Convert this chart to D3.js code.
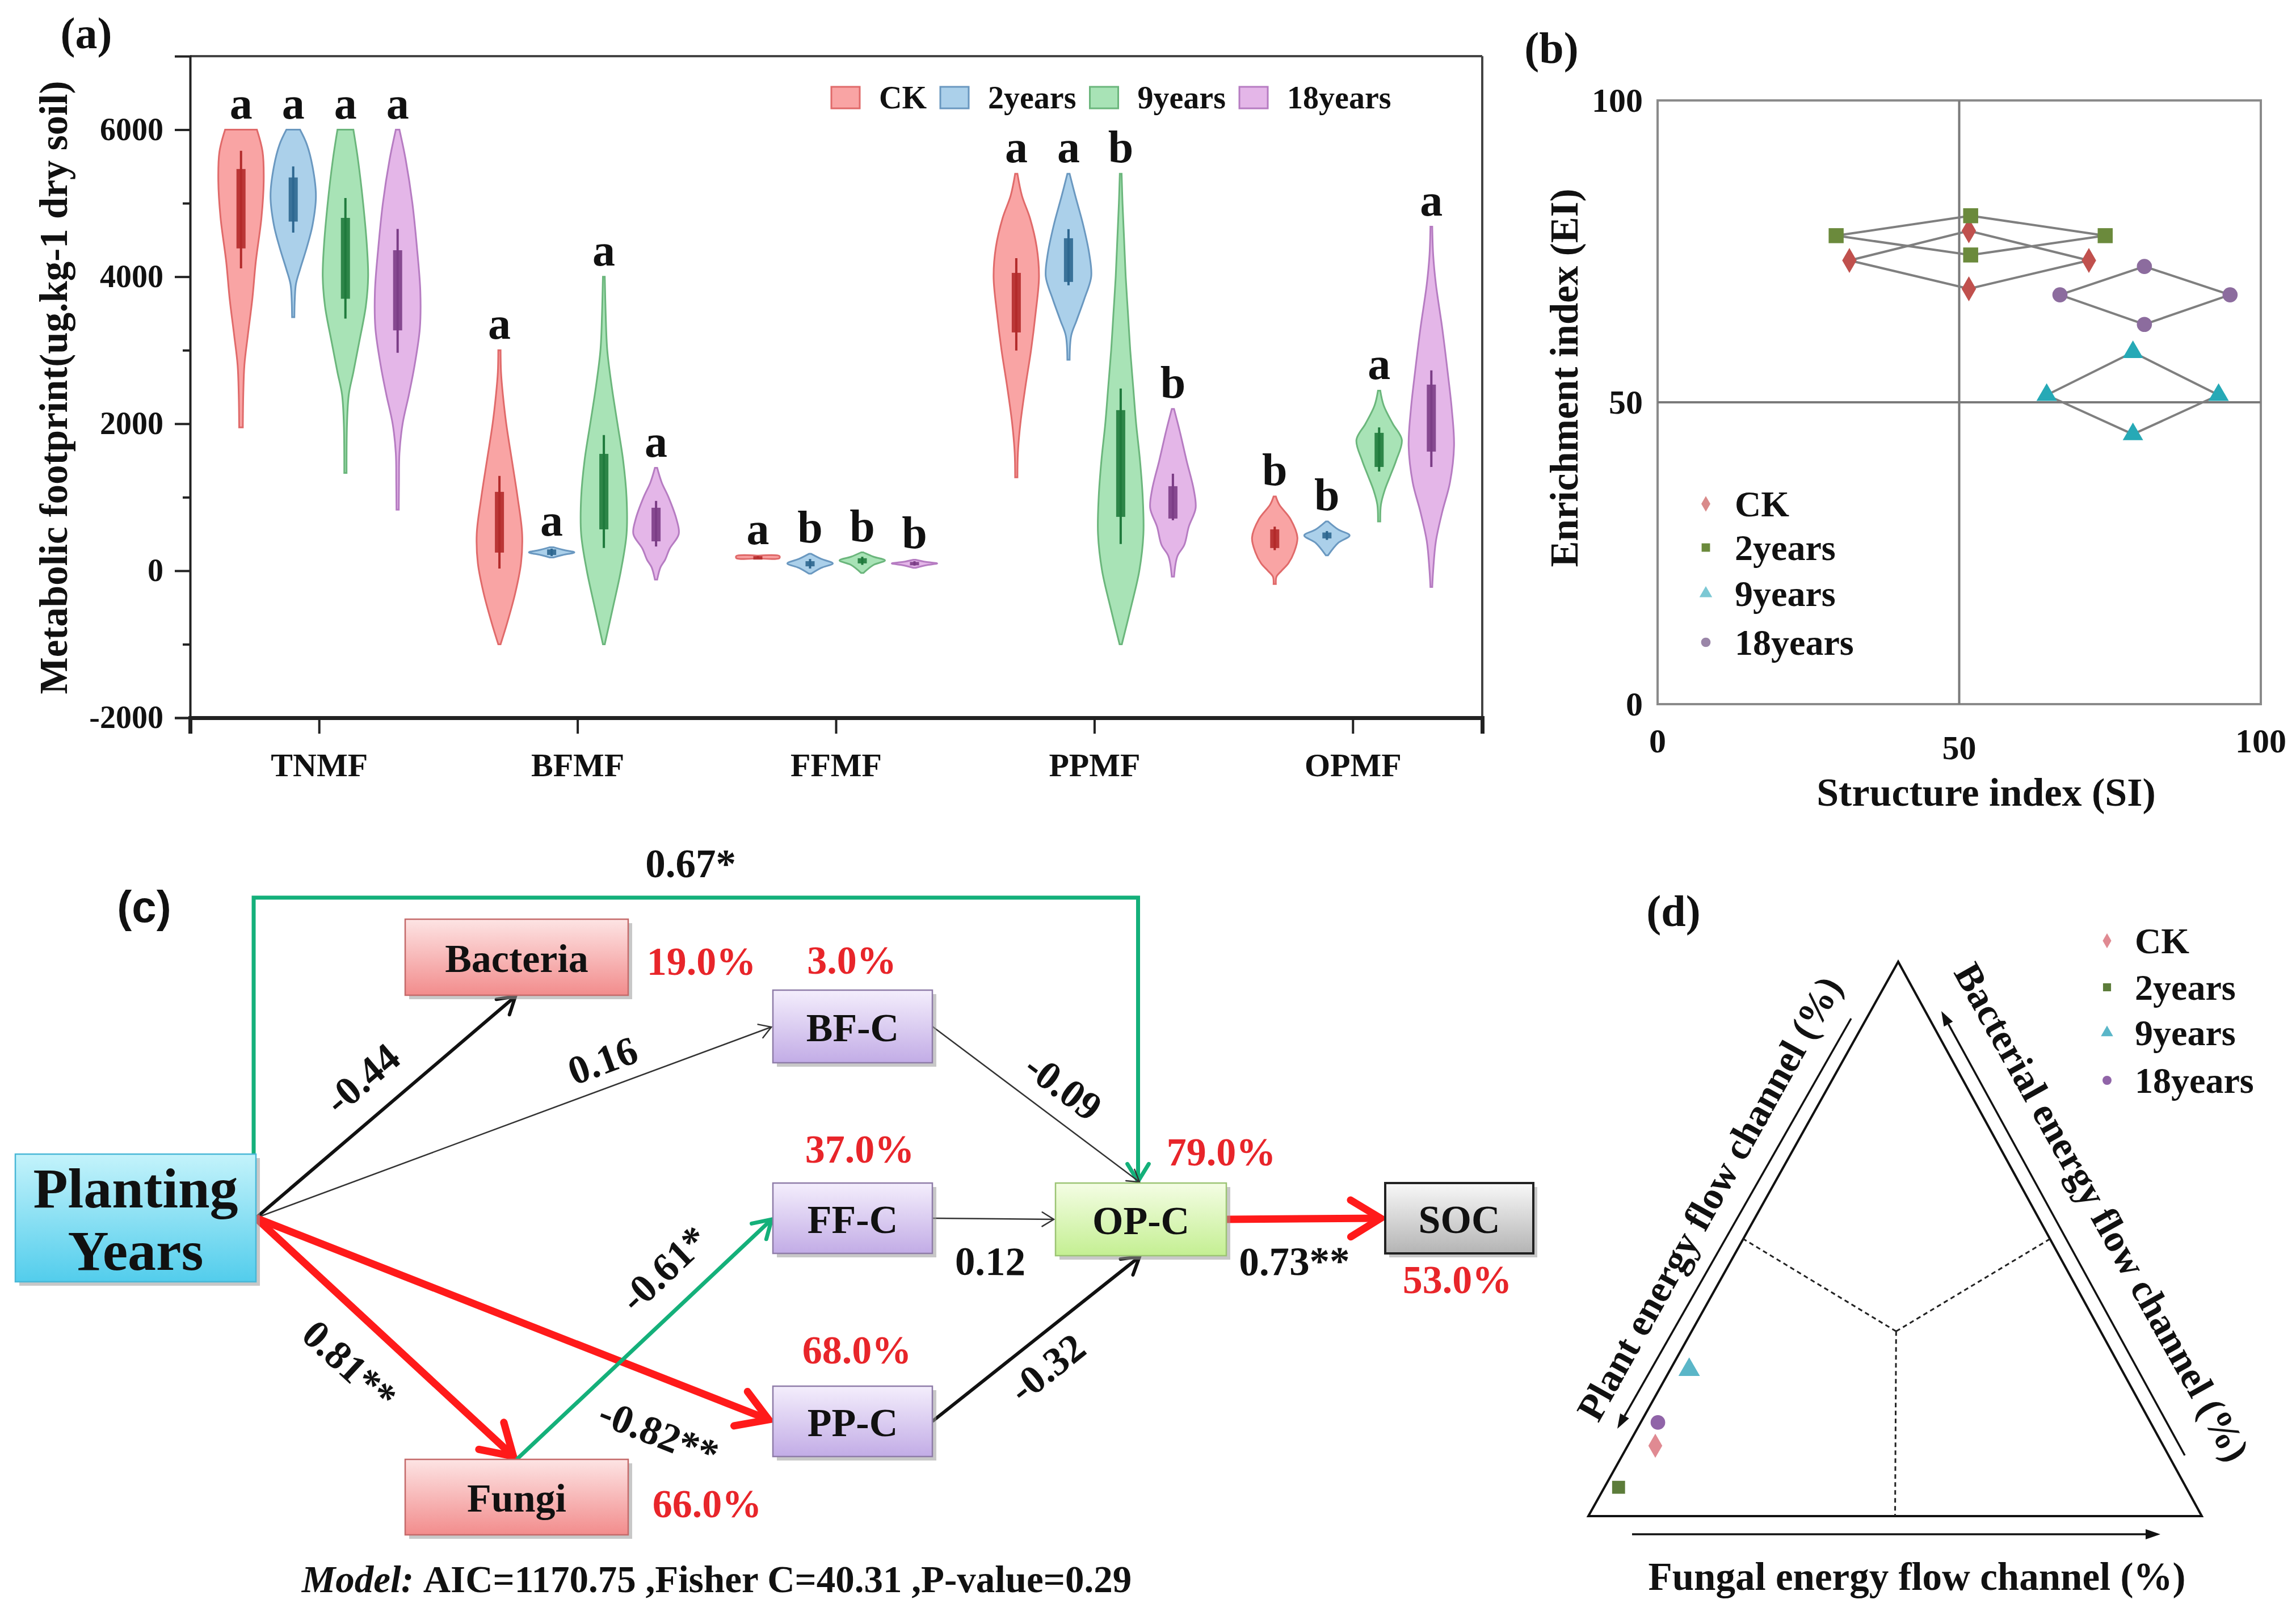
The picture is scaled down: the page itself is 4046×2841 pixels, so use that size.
<!DOCTYPE html>
<html>
<head>
<meta charset="utf-8">
<script src="https://cdn.jsdelivr.net/npm/d3@7"></script>
<style>
  body { margin: 0; background: #fff; }
  svg text { font-family: "Liberation Serif", "Times New Roman", serif; font-weight: bold; fill: #111; }
</style>
</head>
<body>
<svg id="fig" width="4046" height="2841"></svg>
<script>
// ---------------- data ----------------
const groups = ["CK", "2years", "9years", "18years"];
const footprints = ["TNMF", "BFMF", "FFMF", "PPMF", "OPMF"];
const yTicks = [-2000, 0, 2000, 4000, 6000];
const yMinorTicks = [-1000, 1000, 3000, 5000];

// violin outlines: [value, relative density]
const tnmf = [
  { group: "CK", letter: "a", lo: 4114, q1: 4385, q3: 5465, hi: 5712,
    profile: [[6000, 0.7], [5700, 0.95], [5300, 1.0], [4800, 0.9], [4200, 0.65], [3700, 0.5], [3200, 0.3], [2800, 0.15], [2400, 0.1], [1950, 0.08]] },
  { group: "2years", letter: "a", lo: 4600, q1: 4750, q3: 5350, hi: 5500,
    profile: [[6000, 0.3], [5800, 0.6], [5500, 0.85], [5100, 1.0], [4700, 0.85], [4400, 0.6], [4100, 0.3], [3900, 0.12], [3700, 0.07], [3450, 0.05]] },
  { group: "9years", letter: "a", lo: 3430, q1: 3700, q3: 4800, hi: 5070,
    profile: [[6000, 0.35], [5600, 0.55], [5000, 0.78], [4400, 0.95], [4000, 1.0], [3600, 0.9], [3100, 0.6], [2700, 0.35], [2400, 0.15], [2000, 0.07], [1330, 0.05]] },
  { group: "18years", letter: "a", lo: 2965, q1: 3270, q3: 4360, hi: 4650,
    profile: [[6000, 0.08], [5600, 0.35], [5000, 0.65], [4400, 0.85], [3800, 1.0], [3300, 0.98], [2800, 0.75], [2400, 0.5], [2000, 0.22], [1600, 0.08], [1200, 0.06], [830, 0.05]] }
];
const bfmf = [
  { group: "CK", letter: "a", lo: 30, q1: 247, q3: 1073, hi: 1290,
    profile: [[3000, 0.05], [2700, 0.07], [2400, 0.15], [2000, 0.3], [1500, 0.55], [1000, 0.8], [500, 1.0], [100, 0.95], [-300, 0.7], [-700, 0.35], [-1000, 0.05]] },
  { group: "2years", letter: "a", lo: 200, q1: 215, q3: 290, hi: 300,
    profile: [[320, 0.08], [285, 0.5], [250, 1.0], [215, 0.5], [180, 0.08]] },
  { group: "9years", letter: "a", lo: 309, q1: 563, q3: 1590, hi: 1845,
    profile: [[4000, 0.04], [3500, 0.08], [3000, 0.15], [2500, 0.35], [2000, 0.6], [1500, 0.85], [1000, 1.0], [500, 1.0], [0, 0.75], [-500, 0.4], [-1000, 0.04]] },
  { group: "18years", letter: "a", lo: 330, q1: 400, q3: 857, hi: 950,
    profile: [[1400, 0.05], [1200, 0.25], [1000, 0.55], [700, 0.9], [500, 1.0], [300, 0.6], [150, 0.4], [50, 0.2], [-120, 0.05]] }
];
const ffmf = [
  { group: "CK", letter: "a", lo: 175, q1: 178, q3: 198, hi: 200,
    profile: [[205, 0.04], [200, 0.95], [172, 0.95], [168, 0.04]] },
  { group: "2years", letter: "b", lo: 30, q1: 60, q3: 130, hi: 160,
    profile: [[230, 0.05], [160, 0.5], [100, 1.0], [40, 0.5], [-40, 0.05]] },
  { group: "9years", letter: "b", lo: 80, q1: 100, q3: 170, hi: 190,
    profile: [[250, 0.05], [190, 0.5], [140, 1.0], [80, 0.5], [-30, 0.05]] },
  { group: "18years", letter: "b", lo: 70, q1: 80, q3: 120, hi: 130,
    profile: [[150, 0.05], [120, 0.5], [100, 1.0], [75, 0.5], [40, 0.05]] }
];
const ppmf = [
  { group: "CK", letter: "a", lo: 2995, q1: 3242, q3: 4052, hi: 4253,
    profile: [[5400, 0.05], [5100, 0.25], [4800, 0.6], [4400, 0.9], [4000, 1.0], [3500, 0.85], [3000, 0.65], [2500, 0.4], [2000, 0.18], [1600, 0.07], [1270, 0.05]] },
  { group: "2years", letter: "a", lo: 3883, q1: 3929, q3: 4523, hi: 4647,
    profile: [[5400, 0.05], [5100, 0.3], [4700, 0.65], [4300, 0.92], [4000, 1.0], [3700, 0.7], [3400, 0.35], [3200, 0.12], [2870, 0.05]] },
  { group: "9years", letter: "b", lo: 363, q1: 733, q3: 2185, hi: 2478,
    profile: [[5400, 0.04], [5000, 0.08], [4500, 0.15], [4000, 0.22], [3500, 0.32], [3000, 0.42], [2500, 0.55], [2000, 0.68], [1500, 0.85], [1000, 0.97], [500, 1.0], [0, 0.82], [-500, 0.45], [-1000, 0.05]] },
  { group: "18years", letter: "b", lo: 687, q1: 710, q3: 1150, hi: 1320,
    profile: [[2200, 0.05], [1900, 0.3], [1500, 0.6], [1100, 0.92], [850, 1.0], [600, 0.7], [350, 0.5], [200, 0.2], [-80, 0.05]] }
];
const opmf = [
  { group: "CK", letter: "b", lo: 280, q1: 309, q3: 563, hi: 600,
    profile: [[1010, 0.05], [900, 0.2], [700, 0.7], [450, 1.0], [250, 0.85], [100, 0.6], [0, 0.3], [-80, 0.08], [-180, 0.05]] },
  { group: "2years", letter: "b", lo: 420, q1: 440, q3: 520, hi: 540,
    profile: [[670, 0.05], [560, 0.5], [480, 1.0], [380, 0.5], [210, 0.05]] },
  { group: "9years", letter: "a", lo: 1350, q1: 1412, q3: 1876, hi: 1950,
    profile: [[2450, 0.05], [2250, 0.2], [2000, 0.6], [1780, 1.0], [1500, 0.75], [1300, 0.5], [1100, 0.25], [900, 0.08], [670, 0.05]] },
  { group: "18years", letter: "a", lo: 1412, q1: 1621, q3: 2532, hi: 2725,
    profile: [[4680, 0.04], [4300, 0.08], [3900, 0.2], [3300, 0.48], [2700, 0.72], [2200, 0.9], [1700, 1.0], [1200, 0.82], [800, 0.48], [400, 0.2], [0, 0.08], [-220, 0.04]] }
];
const violinSets = [tnmf, bfmf, ffmf, ppmf, opmf];

// (b) structure / enrichment index, each group: left, top, right, bottom
const indexTicks = [0, 50, 100];
const ckIndex = [[31.8, 73.5], [51.6, 78.4], [71.5, 73.5], [51.6, 68.8]];
const y2Index = [[29.6, 77.6], [51.9, 80.9], [74.2, 77.6], [51.9, 74.4]];
const y9Index = [[64.5, 51.2], [78.8, 58.3], [93.0, 51.2], [78.8, 44.7]];
const y18Index = [[66.7, 67.8], [80.7, 72.5], [94.9, 67.8], [80.7, 62.9]];
const indexSets = [ckIndex, y2Index, y9Index, y18Index];

// (c) structural equation model
const semExplained = [["Bacteria", "19.0%"], ["Fungi", "66.0%"], ["BF-C", "3.0%"], ["FF-C", "37.0%"],
                      ["PP-C", "68.0%"], ["OP-C", "79.0%"], ["SOC", "53.0%"]];
const semPaths = [
  ["Planting Years", "Bacteria", "-0.44"],
  ["Planting Years", "BF-C", "0.16"],
  ["Planting Years", "Fungi", "0.81**"],
  ["Planting Years", "PP-C", "-0.82**"],
  ["Planting Years", "OP-C", "0.67*"],
  ["Fungi", "FF-C", "-0.61*"],
  ["BF-C", "OP-C", "-0.09"],
  ["FF-C", "OP-C", "0.12"],
  ["PP-C", "OP-C", "-0.32"],
  ["OP-C", "SOC", "0.73**"]
];
const semFit = { AIC: "1170.75", FisherC: "40.31", P: "0.29" };

// (d) energy flow channels (% plant, % fungal, % bacterial)
const channelPoints = [["CK", 82.8, 4.5, 12.7], ["2years", 92.5, 2.3, 5.2], ["9years", 70.5, 3.1, 26.4], ["18years", 80.3, 2.8, 16.9]];

// ---------------- styles ----------------
const vFill = { CK: "#f9a4a4", "2years": "#abd0ea", "9years": "#a8e3b6", "18years": "#e4b6e8" };
const vStroke = { CK: "#e06a6a", "2years": "#6a98c0", "9years": "#6bb67c", "18years": "#b67cc2" };
const vBox = { CK: "#b22a2a", "2years": "#2e6790", "9years": "#1f7a3c", "18years": "#7b3d86" };
const bColor = { CK: "#c0504d", "2years": "#6b8a3c", "9years": "#26a9b6", "18years": "#8c6c9e" };
const bLegend = { CK: "#d98a8a", "2years": "#6b8a3c", "9years": "#7cc8d4", "18years": "#9a86a8" };
const dColor = { CK: "#e08a92", "2years": "#5c7c3a", "9years": "#5ab6c8", "18years": "#9064a8" };
const symbols = { CK: d3.symbolDiamond, "2years": d3.symbolSquare, "9years": d3.symbolTriangle, "18years": d3.symbolCircle };

const svg = d3.select("#fig");

function panelLabel(x, y, t, family) {
  svg.append("text").attr("x", x).attr("y", y).attr("text-anchor", "middle")
    .attr("dominant-baseline", "central").attr("font-size", 78)
    .style("font-family", family || null).text(t);
}

// ================= (a) violins =================
const gA = svg.append("g");
const xCat = d3.scaleBand().domain(footprints).range([335, 2612]);
const xGrp = d3.scaleBand().domain(groups).range([-184, 184]);
const yA = d3.scaleLinear().domain([-2000, 7000]).range([1265, 99]);
const wA = d3.scaleLinear().domain([0, 1]).range([0, 40]);

panelLabel(152, 58, "(a)");

// frame
gA.append("line").attr("x1", 335).attr("x2", 2612).attr("y1", 99).attr("y2", 99)
  .attr("stroke", "#444").attr("stroke-width", 4);
gA.append("line").attr("x1", 2612).attr("x2", 2612).attr("y1", 99).attr("y2", 1265)
  .attr("stroke", "#444").attr("stroke-width", 4);

const yAxisA = gA.append("g").attr("transform", "translate(335,0)")
  .call(d3.axisLeft(yA).tickValues(yTicks).tickSize(27).tickPadding(20).tickFormat(d => String(d)));
yAxisA.select(".domain").attr("stroke", "#222").attr("stroke-width", 4);
yAxisA.selectAll(".tick line").attr("stroke", "#222").attr("stroke-width", 4);
yAxisA.selectAll("text").attr("font-size", 56).attr("fill", "#111");
const yMinorA = gA.append("g").attr("transform", "translate(335,0)")
  .call(d3.axisLeft(yA).tickValues(yMinorTicks).tickSize(13).tickFormat(""));
yMinorA.select(".domain").remove();
yMinorA.selectAll(".tick line").attr("stroke", "#222").attr("stroke-width", 4);

const xAxisA = gA.append("g").attr("transform", "translate(0,1265)")
  .call(d3.axisBottom(xCat).tickSize(28).tickPadding(34));
xAxisA.select(".domain").attr("stroke", "#222").attr("stroke-width", 7);
xAxisA.selectAll(".tick line").attr("stroke", "#222").attr("stroke-width", 4);
xAxisA.selectAll("text").attr("font-size", 58).attr("fill", "#111");

gA.append("text")
  .attr("transform", "translate(95,683) rotate(-90)")
  .attr("text-anchor", "middle").attr("dominant-baseline", "central")
  .attr("font-size", 69).text("Metabolic footprint(ug.kg-1 dry soil)");

const violinArea = d3.area()
  .y(d => yA(d[0]))
  .curve(d3.curveCatmullRom.alpha(0.5));

violinSets.forEach((set, i) => {
  const cat = footprints[i];
  set.forEach(v => {
    const cx = xCat(cat) + xCat.bandwidth() / 2 + xGrp(v.group) + xGrp.bandwidth() / 2;
    const g = gA.append("g");
    g.append("path")
      .attr("d", violinArea.x0(d => cx - wA(d[1])).x1(d => cx + wA(d[1]))(v.profile))
      .attr("fill", vFill[v.group]).attr("stroke", vStroke[v.group]).attr("stroke-width", 3);
    g.append("line").attr("x1", cx).attr("x2", cx)
      .attr("y1", yA(v.hi)).attr("y2", yA(v.lo))
      .attr("stroke", vBox[v.group]).attr("stroke-width", 4);
    g.append("rect").attr("x", cx - 8).attr("width", 16)
      .attr("y", yA(v.q3)).attr("height", Math.max(6, yA(v.q1) - yA(v.q3)))
      .attr("fill", vBox[v.group]).attr("opacity", 0.9);
    g.append("text").attr("x", cx).attr("y", yA(v.profile[0][0]) - 20)
      .attr("text-anchor", "middle").attr("font-size", 80).text(v.letter);
  });
});

// legend (a)
{
  let lx = 1465;
  groups.forEach(gname => {
    gA.append("rect").attr("x", lx).attr("y", 153).attr("width", 50).attr("height", 38)
      .attr("fill", vFill[gname]).attr("stroke", vStroke[gname]).attr("stroke-width", 3);
    const t = gA.append("text").attr("x", lx + 84).attr("y", 172).attr("dominant-baseline", "central")
      .attr("font-size", 56).text(gname);
    lx += 84 + t.node().getComputedTextLength() + 24;
  });
}

// ================= (b) SI / EI =================
const gB = svg.append("g");
const xB = d3.scaleLinear().domain([0, 100]).range([2921, 3984]);
const yB = d3.scaleLinear().domain([0, 100]).range([1241, 177]);

panelLabel(2734, 84, "(b)");

gB.append("rect").attr("x", xB(0)).attr("y", yB(100))
  .attr("width", xB(100) - xB(0)).attr("height", yB(0) - yB(100))
  .attr("fill", "none").attr("stroke", "#8a8a8a").attr("stroke-width", 4);
gB.append("line").attr("x1", xB(50)).attr("x2", xB(50)).attr("y1", yB(0)).attr("y2", yB(100))
  .attr("stroke", "#7a7a7a").attr("stroke-width", 4);
gB.append("line").attr("x1", xB(0)).attr("x2", xB(100)).attr("y1", yB(50)).attr("y2", yB(50))
  .attr("stroke", "#7a7a7a").attr("stroke-width", 4);

indexTicks.forEach(t => {
  gB.append("text").attr("x", xB(0) - 26).attr("y", yB(t)).attr("text-anchor", "end")
    .attr("dominant-baseline", "central").attr("font-size", 60).text(t);
  gB.append("text").attr("x", xB(t)).attr("y", t === 50 ? 1318 : 1306).attr("text-anchor", "middle")
    .attr("dominant-baseline", "central").attr("font-size", 60).text(t);
});
gB.append("text").attr("x", 3500).attr("y", 1396).attr("text-anchor", "middle")
  .attr("dominant-baseline", "central").attr("font-size", 70).text("Structure index (SI)");
gB.append("text").attr("transform", "translate(2757,666) rotate(-90)").attr("text-anchor", "middle")
  .attr("dominant-baseline", "central").attr("font-size", 69).text("Enrichment index (EI)");

const diamondLine = d3.line().x(d => xB(d[0])).y(d => yB(d[1]));
indexSets.forEach(pts => {
  gB.append("path").attr("d", diamondLine(pts.concat([pts[0]])))
    .attr("fill", "none").attr("stroke", "#7f7f7f").attr("stroke-width", 4);
});
indexSets.forEach((pts, i) => {
  const gname = groups[i];
  gB.selectAll(null).data(pts).join("path")
    .attr("transform", d => `translate(${xB(d[0])},${yB(d[1])})`)
    .attr("d", d3.symbol().type(symbols[gname]).size(gname === "2years" ? 700 : 560))
    .attr("fill", bColor[gname]);
});
groups.forEach((gname, i) => {
  const ly = [888, 965, 1046, 1132][i];
  gB.append("path").attr("transform", `translate(3006,${ly})`)
    .attr("d", d3.symbol().type(symbols[gname]).size(220)).attr("fill", bLegend[gname]);
  gB.append("text").attr("x", 3057).attr("y", ly).attr("dominant-baseline", "central")
    .attr("font-size", 64).text(gname);
});

// ================= (c) SEM =================
const gC = svg.append("g");
panelLabel(254, 1598, "(c)", "'Liberation Sans', Arial, sans-serif");

const nodeBox = {
  "Planting Years": { x: 27, y: 2034, w: 424, h: 225, fill: "cyan" },
  "Bacteria": { x: 714, y: 1620, w: 393, h: 134, fill: "pink" },
  "Fungi": { x: 714, y: 2572, w: 393, h: 133, fill: "pink" },
  "BF-C": { x: 1362, y: 1745, w: 281, h: 128, fill: "lav" },
  "FF-C": { x: 1362, y: 2085, w: 281, h: 124, fill: "lav" },
  "PP-C": { x: 1362, y: 2443, w: 281, h: 124, fill: "lav" },
  "OP-C": { x: 1860, y: 2085, w: 301, h: 128, fill: "lime" },
  "SOC": { x: 2441, y: 2085, w: 261, h: 124, fill: "gray" }
};
const gradStops = {
  cyan: ["#c4f3fb", "#52cdec", "#49b7d6"],
  pink: ["#fde4e4", "#f28c8c", "#c46a6a"],
  lav: ["#f4eefc", "#c2ace6", "#8e7ca8"],
  lime: ["#f4fde4", "#c4ef92", "#9cc474"],
  gray: ["#f8f8f8", "#b4b4b4", "#222"]
};
const defs = svg.append("defs");
Object.entries(gradStops).forEach(([k, c]) => {
  const lg = defs.append("linearGradient").attr("id", "g-" + k).attr("x1", 0).attr("y1", 0).attr("x2", 0).attr("y2", 1);
  lg.append("stop").attr("offset", "0%").attr("stop-color", c[0]);
  lg.append("stop").attr("offset", "100%").attr("stop-color", c[1]);
});

// path routes: side of source and target box
const routes = {
  "Planting Years>Bacteria": ["right", "bottom"],
  "Planting Years>BF-C": ["right", "left"],
  "Planting Years>Fungi": ["right", "top"],
  "Planting Years>PP-C": ["right", "left"],
  "Planting Years>OP-C": ["right", "top"],
  "Fungi>FF-C": ["top", "left"],
  "BF-C>OP-C": ["right", "top"],
  "FF-C>OP-C": ["right", "left"],
  "PP-C>OP-C": ["right", "bottom"],
  "OP-C>SOC": ["right", "left"]
};
const labelPos = {
  "-0.44": [638, 1901], "0.16": [1062, 1869], "0.81**": [616, 2406], "-0.82**": [1161, 2526],
  "0.67*": [1217, 1522], "-0.61*": [1170, 2236], "-0.09": [1874, 1915], "0.12": [1745, 2223],
  "-0.32": [1845, 2411], "0.73**": [2281, 2223]
};
function anchor(name, side) {
  const b = nodeBox[name];
  if (side === "right") return [b.x + b.w, b.y + b.h / 2];
  if (side === "left") return [b.x, b.y + b.h / 2];
  if (side === "top") return [b.x + b.w / 2, b.y];
  return [b.x + b.w / 2, b.y + b.h];
}
function pathStyle(coef) {
  if (coef.endsWith("**")) return { color: "#ff1a1a", width: 13, head: 62 };
  if (coef.endsWith("*")) return { color: "#14b07a", width: 7, head: 36 };
  if (Math.abs(parseFloat(coef)) >= 0.3) return { color: "#111", width: 6, head: 34 };
  return { color: "#333", width: 2.5, head: 24 };
}
function chevron(g, tip, ang, st) {
  const a = 0.55;
  const p1 = [tip[0] - st.head * Math.cos(ang - a), tip[1] - st.head * Math.sin(ang - a)];
  const p2 = [tip[0] - st.head * Math.cos(ang + a), tip[1] - st.head * Math.sin(ang + a)];
  g.append("path").attr("d", `M${p1}L${tip}L${p2}`).attr("fill", "none")
    .attr("stroke", st.color).attr("stroke-width", st.width).attr("stroke-linejoin", "miter")
    .attr("stroke-linecap", "round");
}

// edges (drawn under boxes)
const gEdges = gC.append("g");
semPaths.forEach(([from, to, coef]) => {
  const st = pathStyle(coef);
  const [sa, ta] = routes[from + ">" + to];
  const p0 = anchor(from, sa);
  const p1 = anchor(to, ta);
  const inset = st.width > 10 ? 8 : 3;
  if (from === "Planting Years" && to === "OP-C") {
    const top = 1582;
    const xEnd = nodeBox[to].x + nodeBox[to].w / 2 - 5;
    const tip = [xEnd, nodeBox[to].y - 3];
    gEdges.append("path").attr("d", `M${p0[0] - 4},${p0[1]}V${top}H${xEnd}V${tip[1]}`)
      .attr("fill", "none").attr("stroke", st.color).attr("stroke-width", st.width);
    chevron(gEdges, tip, Math.PI / 2, st);
  } else {
    const ang = Math.atan2(p1[1] - p0[1], p1[0] - p0[0]);
    const tip = [p1[0] - inset * Math.cos(ang), p1[1] - inset * Math.sin(ang)];
    gEdges.append("line").attr("x1", p0[0]).attr("y1", p0[1]).attr("x2", tip[0]).attr("y2", tip[1])
      .attr("stroke", st.color).attr("stroke-width", st.width);
    chevron(gEdges, tip, ang, st);
  }
});

// boxes
Object.entries(nodeBox).forEach(([name, b]) => {
  gC.append("rect").attr("x", b.x + 7).attr("y", b.y + 7).attr("width", b.w).attr("height", b.h)
    .attr("fill", "#9a9a9a").attr("opacity", 0.55);
  gC.append("rect").attr("x", b.x).attr("y", b.y).attr("width", b.w).attr("height", b.h)
    .attr("fill", `url(#g-${b.fill})`).attr("stroke", gradStops[b.fill][2])
    .attr("stroke-width", b.fill === "gray" ? 4 : 2.5);
  if (name === "Planting Years") {
    gC.append("text").attr("x", b.x + b.w / 2).attr("y", b.y + 60).attr("text-anchor", "middle")
      .attr("dominant-baseline", "central").attr("font-size", 100).text("Planting");
    gC.append("text").attr("x", b.x + b.w / 2).attr("y", b.y + 170).attr("text-anchor", "middle")
      .attr("dominant-baseline", "central").attr("font-size", 100).text("Years");
  } else {
    gC.append("text").attr("x", b.x + b.w / 2).attr("y", b.y + b.h / 2 + 2).attr("text-anchor", "middle")
      .attr("dominant-baseline", "central").attr("font-size", 70).text(name);
  }
});

// coefficients
semPaths.forEach(([from, to, coef]) => {
  const [sa, ta] = routes[from + ">" + to];
  const p0 = anchor(from, sa), p1 = anchor(to, ta);
  let ang = Math.atan2(p1[1] - p0[1], p1[0] - p0[0]) * 180 / Math.PI;
  if (from === "Planting Years" && to === "OP-C") ang = 0;
  const [lx, ly] = labelPos[coef];
  gC.append("text").attr("transform", `translate(${lx},${ly}) rotate(${ang})`)
    .attr("text-anchor", "middle").attr("dominant-baseline", "central")
    .attr("font-size", 71).text(coef);
});

// explained variance
const r2Pos = {
  "Bacteria": [1236, 1694], "Fungi": [1246, 2650], "BF-C": [1501, 1692], "FF-C": [1515, 2025],
  "PP-C": [1510, 2379], "OP-C": [2152, 2030], "SOC": [2568, 2255]
};
semExplained.forEach(([name, val]) => {
  const [x, y] = r2Pos[name];
  gC.append("text").attr("x", x).attr("y", y).attr("text-anchor", "middle")
    .attr("dominant-baseline", "central").attr("font-size", 70).style("fill", "#e8252a").text(val);
});

{
  const t = gC.append("text").attr("x", 1263).attr("y", 2783).attr("text-anchor", "middle")
    .attr("dominant-baseline", "central").attr("font-size", 67);
  t.append("tspan").attr("font-style", "italic").text("Model: ");
  t.append("tspan").text(`AIC=${semFit.AIC} ,Fisher C=${semFit.FisherC} ,P-value=${semFit.P}`);
}

// ================= (d) ternary =================
const gD = svg.append("g");
panelLabel(2949, 1605, "(d)");

const vP = [2799, 2672], vF = [3880, 2672], vBct = [3345, 1695];
function tern(plant, fungal, bact) {
  const s = plant + fungal + bact;
  return [(plant * vP[0] + fungal * vF[0] + bact * vBct[0]) / s,
          (plant * vP[1] + fungal * vF[1] + bact * vBct[1]) / s];
}
gD.append("path").attr("d", `M${vP}L${vBct}L${vF}Z`).attr("fill", "none")
  .attr("stroke", "#111").attr("stroke-width", 4).attr("stroke-linejoin", "miter");
const centre = tern(1, 1, 1);
[tern(1, 0, 1), tern(0, 1, 1), tern(1, 1, 0)].forEach(m => {
  gD.append("line").attr("x1", centre[0]).attr("y1", centre[1]).attr("x2", m[0]).attr("y2", m[1])
    .attr("stroke", "#222").attr("stroke-width", 3).attr("stroke-dasharray", "8,6");
});

function arrowLine(a, b) {
  const ang = Math.atan2(b[1] - a[1], b[0] - a[0]);
  const L = 26, h = 9;
  const base = [b[0] - L * Math.cos(ang), b[1] - L * Math.sin(ang)];
  gD.append("line").attr("x1", a[0]).attr("y1", a[1]).attr("x2", base[0]).attr("y2", base[1])
    .attr("stroke", "#111").attr("stroke-width", 3.5);
  const n = [-Math.sin(ang) * h, Math.cos(ang) * h];
  gD.append("path").attr("d", `M${b}L${base[0] + n[0]},${base[1] + n[1]}L${base[0] - n[0]},${base[1] - n[1]}Z`)
    .attr("fill", "#111");
}
arrowLine([3262, 1795], [2850, 2518]);
arrowLine([3850, 2565], [3421, 1782]);
arrowLine([2876, 2704], [3807, 2704]);

const edgeAng = Math.atan2(vBct[1] - vP[1], vBct[0] - vP[0]) * 180 / Math.PI;
gD.append("text").attr("transform", `translate(3012,2112) rotate(${edgeAng})`)
  .attr("text-anchor", "middle").attr("dominant-baseline", "central").attr("font-size", 68)
  .text("Plant energy flow channel (%)");
gD.append("text").attr("transform", `translate(3704,2136) rotate(${-edgeAng})`)
  .attr("text-anchor", "middle").attr("dominant-baseline", "central").attr("font-size", 68)
  .text("Bacterial energy flow channel (%)");
gD.append("text").attr("x", 3378).attr("y", 2779)
  .attr("text-anchor", "middle").attr("dominant-baseline", "central").attr("font-size", 69)
  .text("Fungal energy flow channel (%)");

channelPoints.forEach(([gname, plant, fungal, bact]) => {
  const [x, y] = tern(plant, fungal, bact);
  gD.append("path").attr("transform", `translate(${x},${y})`)
    .attr("d", d3.symbol().type(symbols[gname]).size(gname === "9years" ? 620 : 520))
    .attr("fill", dColor[gname]);
});
groups.forEach((gname, i) => {
  const ly = [1658, 1740, 1820, 1904][i];
  gD.append("path").attr("transform", `translate(3713,${ly})`)
    .attr("d", d3.symbol().type(symbols[gname]).size(200)).attr("fill", dColor[gname]);
  gD.append("text").attr("x", 3762).attr("y", ly).attr("dominant-baseline", "central")
    .attr("font-size", 64).text(gname);
});
</script>
</body>
</html>
